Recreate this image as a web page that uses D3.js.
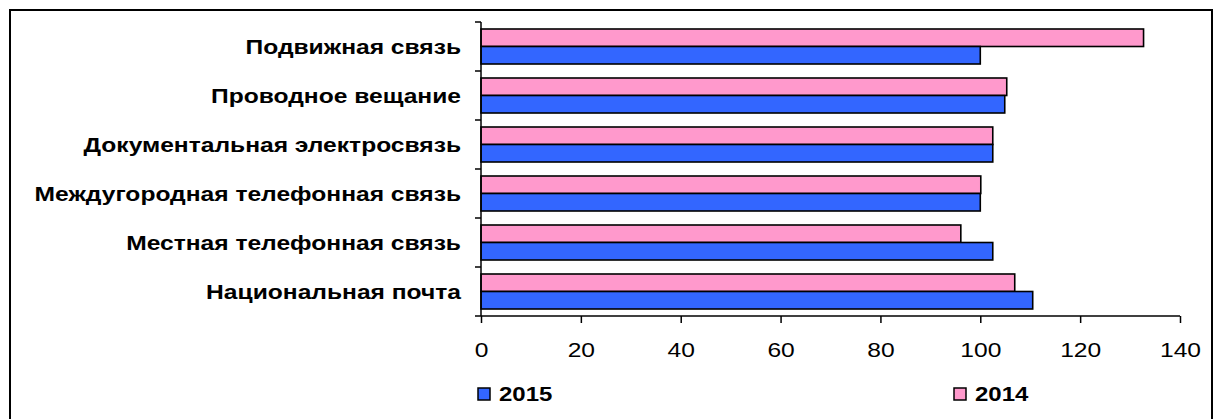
<!DOCTYPE html>
<html><head><meta charset="utf-8">
<script src="https://cdn.jsdelivr.net/npm/d3@7"></script>
<style>body{margin:0;background:#fff}svg{display:block}</style>
</head><body>
<svg id="c" width="1215" height="419"></svg>
<script>
const categories = ["Подвижная связь","Проводное вещание","Документальная электросвязь","Междугородная телефонная связь","Местная телефонная связь","Национальная почта"];
const values2014 = [132.7, 105.3, 102.5, 100.1, 96.1, 106.9];
const values2015 = [100.0, 104.9, 102.5, 100.0, 102.5, 110.5];
const seriesNames = ["2015","2014"];
const xTicks = [0,20,40,60,80,100,120,140];

(function(){
const SX = 1.23;
const FONT = "Liberation Sans, Arial, sans-serif";
const svg = d3.select("#c");
svg.append("rect").attr("x",10).attr("y",10).attr("width",1202).attr("height",420)
  .attr("fill","none").attr("stroke","#000").attr("stroke-width",2);

const pl=481, pr=1180, pt=22, pb=316;
const x = d3.scaleLinear().domain([0,140]).range([pl,pr]);
const y = d3.scaleBand().domain(categories).range([pt,pb]);
const inner = d3.scaleBand().domain(["2014","2015"]).range([0,y.bandwidth()]).paddingInner(0).paddingOuter(0.4);

const g = svg.append("g");
categories.forEach((c,i)=>{
  [["2014",values2014[i],"#FF99CC"],["2015",values2015[i],"#3366FF"]].forEach(([s,v,col])=>{
    g.append("rect").attr("x",x(0)).attr("y",y(c)+inner(s)).attr("width",x(v)-x(0)).attr("height",inner.bandwidth())
      .attr("fill",col).attr("stroke","#000").attr("stroke-width",1.6);
  });
});

const ya = svg.append("g").attr("transform",`translate(${pl},0)`);
ya.append("line").attr("x1",0).attr("x2",0).attr("y1",pt).attr("y2",pb).attr("stroke","#000").attr("stroke-width",1.5);
d3.range(categories.length+1).forEach(i=>{
  const yy = pt + i*y.step();
  ya.append("line").attr("x1",-6).attr("x2",0).attr("y1",yy).attr("y2",yy).attr("stroke","#000").attr("stroke-width",1.5);
});
ya.selectAll("text.cat").data(categories).join("text").attr("class","cat")
  .attr("transform",d=>`translate(-20,${y(d)+y.bandwidth()/2}) scale(${SX},1)`).attr("dy","0.35em")
  .attr("text-anchor","end").attr("font-family",FONT)
  .attr("font-weight","bold").attr("font-size",20).text(d=>d);

const xa = svg.append("g").attr("transform",`translate(0,${pb})`)
  .call(d3.axisBottom(x).tickValues(xTicks).tickSize(7).tickPadding(20).tickFormat(d3.format("d")));
xa.select(".domain").attr("stroke","#000").attr("stroke-width",1.5).attr("d",`M${pl},0H${pr}`);
xa.selectAll(".tick line").attr("stroke","#000").attr("stroke-width",1.5);
xa.selectAll(".tick text").each(function(){
  const t = d3.select(this);
  const yy = +t.attr("y");
  t.attr("y",null).attr("transform",`translate(0,${yy}) scale(${SX},1)`);
}).attr("font-family",FONT).attr("font-size",20).attr("fill","#000");

const leg = [["2015","#3366FF",478],["2014","#FF99CC",954]];
leg.forEach(([n,col,lx])=>{
  svg.append("rect").attr("x",lx).attr("y",388).attr("width",12).attr("height",12)
    .attr("fill",col).attr("stroke","#000").attr("stroke-width",1.5);
  svg.append("text").attr("transform",`translate(${lx+21},394) scale(${SX},1)`).attr("dy","0.35em")
    .attr("font-family",FONT).attr("font-weight","bold").attr("font-size",19.5).text(n);
});
})();
</script>
</body></html>
